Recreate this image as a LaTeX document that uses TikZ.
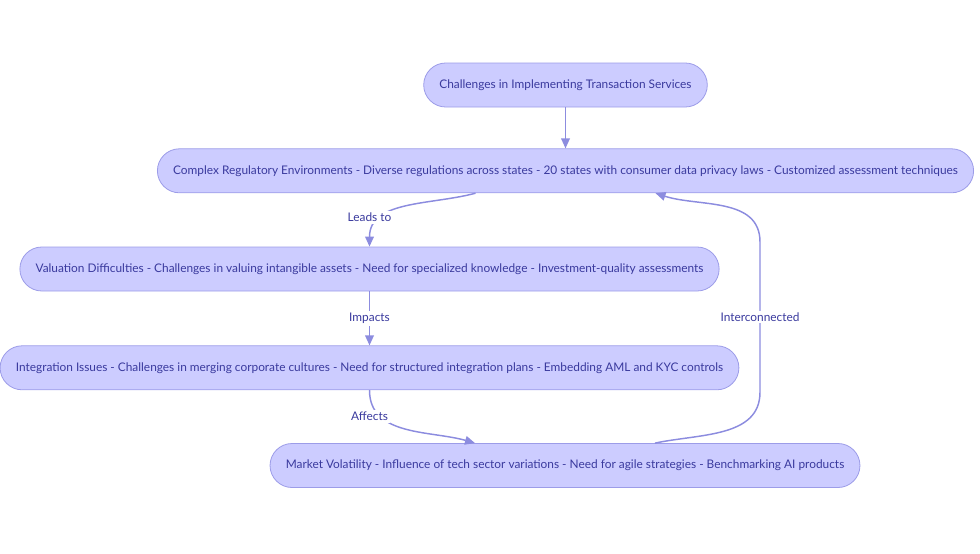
\documentclass[tikz,border=0pt]{standalone}
\usepackage{fontspec}
\setmainfont{Lato}
\usetikzlibrary{positioning, arrows.meta, calc}
\definecolor{boxfill}{HTML}{CCCCFF}
\definecolor{boxline}{HTML}{9C9CE8}
\definecolor{boxtext}{HTML}{3A3A9E}
\definecolor{edgeline}{HTML}{8C8CDF}
\tikzset{
  challenge/.style={
    rectangle,
    rounded corners=16.5pt,
    draw=boxline, fill=boxfill, line width=0.6pt,
    minimum height=33pt,
    inner xsep=11.8pt,
    text=boxtext,
    font=\fontsize{8.9}{10}\selectfont,
    text centered
  },
  arrow/.style={
    draw=edgeline,
    line width=1.1pt,
    -{Triangle[length=7.5pt,width=6.5pt]}
  },
  edgelabel/.style={
    fill=white,
    text=boxtext,
    inner sep=1.5pt,
    font=\fontsize{8.9}{10}\selectfont
  }
}

\begin{document}
\begin{tikzpicture}[x=0.75pt, y=-0.75pt]
\useasboundingbox (0,0) rectangle (980,553);

% nodes
\node[challenge] (top) at (565.5,85)
  {Challenges in Implementing Transaction Services};

\node[challenge, below = 30.75pt of top] (reg)
  {Complex Regulatory Environments - Diverse regulations across states - 20 states with consumer data privacy laws - Customized assessment techniques};

\node[challenge] (val) at (369.5,269)
  {Valuation Difficulties - Challenges in valuing intangible assets - Need for specialized knowledge - Investment-quality assessments};

\node[challenge, below = 40.5pt of val] (int)
  {Integration Issues - Challenges in merging corporate cultures - Need for structured integration plans - Embedding AML and KYC controls};

\node[challenge] (mkt) at (565,465.5)
  {Market Volatility - Influence of tech sector variations - Need for agile strategies - Benchmarking AI products};

% edges
\draw [arrow] (top.south) -- (reg.north);

%% reg -> val
\draw [arrow] ($(reg.south)+(-90,0)$) to[out=195, in=90] (val.north);
\node[edgelabel] at ($(val.north)+(0,-29)$) {Leads to};

%% val -> int
\draw [arrow] (val.south) -- node[edgelabel]{Impacts} (int.north);

%% int -> mkt
\draw [arrow] (int.south) to[out=-90, in=164] ($(mkt.north)+(-90,0)$);
\node[edgelabel] at ($(int.south)+(0,26)$) {Affects};

%% mkt -> reg
\coordinate (h52) at ($(mkt.north)+(195,-51)$);
\draw [arrow] ($(mkt.north)+(90,0)$) to[out=12, in=-90] (h52)
  -- node[edgelabel]{Interconnected} (h52 |- 0,242) to[out=90, in=-18] ($(reg.south)+(90,0)$);
\end{tikzpicture}
\end{document}
